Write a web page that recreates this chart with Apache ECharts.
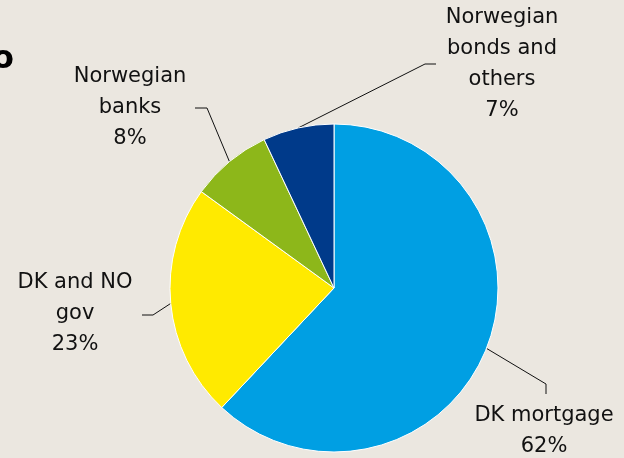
<!DOCTYPE html>
<html>
<head>
<meta charset="utf-8">
<script src="https://cdn.jsdelivr.net/npm/echarts@6/dist/echarts.min.js"></script>
<style>
  html, body { margin: 0; padding: 0; background: #ebe7e0; }
  #chart { width: 624px; height: 458px; }
</style>
</head>
<body>
<div id="chart"></div>
<script>
// data
const categories = ['DK mortgage', 'DK and NO\ngov', 'Norwegian\nbanks', 'Norwegian\nbonds and\nothers']
const shares = [62, 23, 8, 7]
const colors = ['#009fe3', '#ffea00', '#8db71a', '#003a8a']

// label centre + elbow + end of leader line (px)
const labelSpots = [
  { x: 544, y: 431, elbow: [546, 384], end: [546, 394] },
  { x: 75, y: 314, elbow: [153, 315], end: [142, 315] },
  { x: 130, y: 108, elbow: [207, 108], end: [195, 108] },
  { x: 502, y: 64, elbow: [425, 64], end: [436, 64] }
]

const chart = echarts.init(document.getElementById('chart'))

const option = {
  backgroundColor: '#ebe7e0',
  animation: false,
  graphic: [
    {
      type: 'text',
      x: 14,
      y: 60,
      style: {
        text: 'o',
        font: 'bold 32px "DejaVu Sans"',
        fill: '#000',
        align: 'right',
        verticalAlign: 'middle'
      }
    }
  ],
  series: [
    {
      type: 'pie',
      center: [334, 288],
      radius: [0, 164],
      startAngle: 90,
      clockwise: true,
      data: categories.map((name, i) => ({
        name: name,
        value: shares[i],
        itemStyle: { color: colors[i] }
      })),
      itemStyle: {
        borderColor: '#ffffff',
        borderWidth: 1
      },
      label: {
        show: true,
        formatter: (p) => p.name + '\n' + p.value + '%',
        fontFamily: 'DejaVu Sans',
        fontSize: 21,
        lineHeight: 31,
        color: '#111',
        align: 'center',
        overflow: 'none'
      },
      labelLine: {
        show: true,
        length: 20,
        length2: 10,
        lineStyle: { color: '#111', width: 1 }
      },
      labelLayout: (params) => {
        const s = labelSpots[params.dataIndex]
        const start = params.labelLinePoints[0]
        return {
          x: s.x,
          y: s.y,
          align: 'center',
          verticalAlign: 'middle',
          labelLinePoints: [start, s.elbow, s.end]
        }
      }
    }
  ]
}

chart.setOption(option)
</script>
</body>
</html>
